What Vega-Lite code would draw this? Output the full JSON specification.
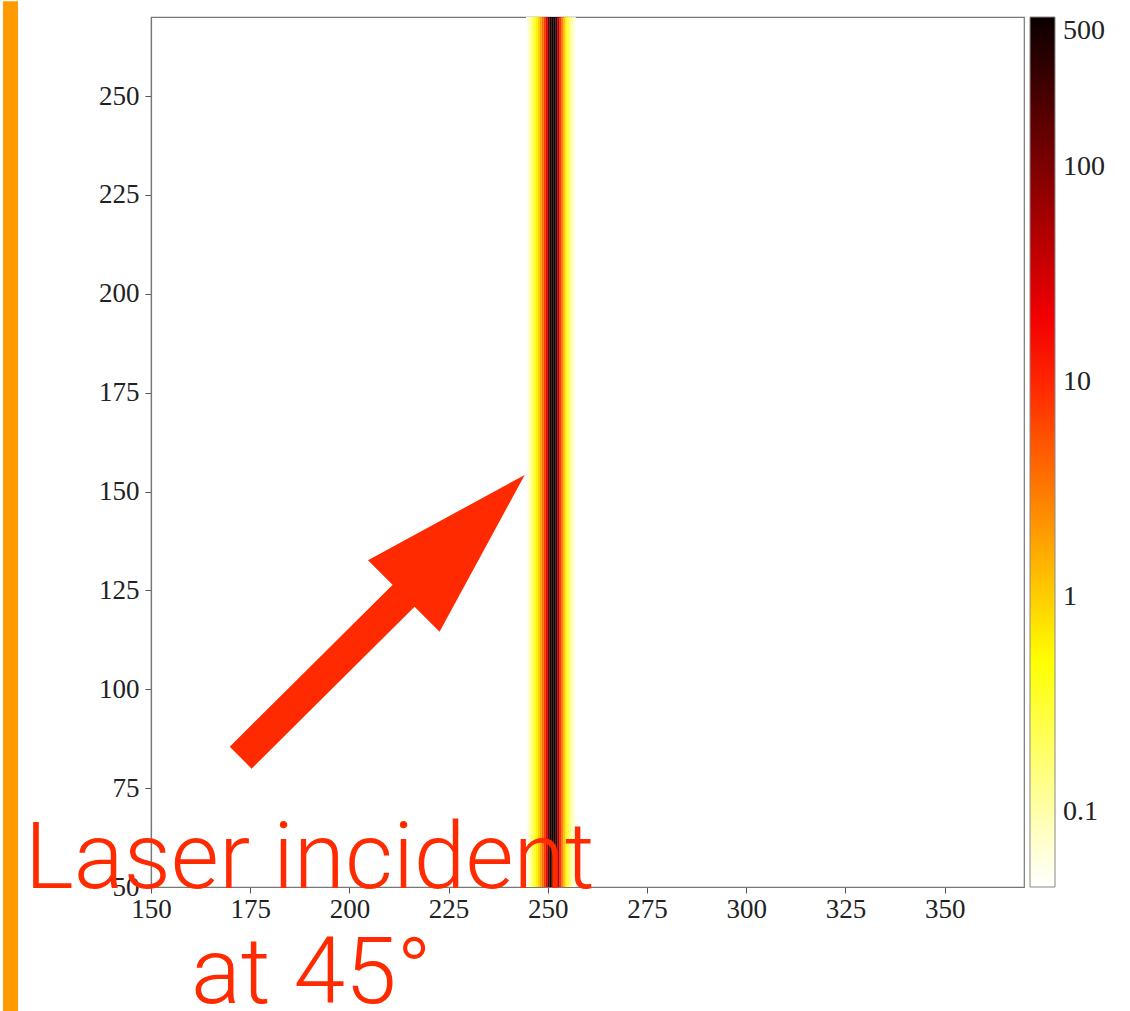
{
  "$schema": "https://vega.github.io/schema/vega-lite/v6.json",
  "width": 873,
  "height": 870,
  "autosize": "none",
  "padding": {"left": 151, "top": 17, "right": 106, "bottom": 124},
  "background": "white",
  "config": {
    "view": {"stroke": "#777", "strokeWidth": 1.2},
    "axis": {
      "labelFont": "Liberation Serif",
      "labelFontSize": 27,
      "labelColor": "#222",
      "labelFlush": false,
      "labelOverlap": false,
      "domainColor": "#777",
      "domainWidth": 1.2,
      "tickColor": "#555",
      "tickSize": 6,
      "grid": false,
      "title": null
    }
  },
  "datasets": {
    "heat": [
      {"x0": 244.5, "x1": 245.0, "v": 0.05},
      {"x0": 245.0, "x1": 245.5, "v": 0.08},
      {"x0": 245.5, "x1": 246.0, "v": 0.12},
      {"x0": 246.0, "x1": 246.5, "v": 0.2},
      {"x0": 246.5, "x1": 247.0, "v": 0.35},
      {"x0": 247.0, "x1": 247.5, "v": 0.6},
      {"x0": 247.5, "x1": 248.0, "v": 1.0},
      {"x0": 248.0, "x1": 248.5, "v": 1.8},
      {"x0": 248.5, "x1": 249.0, "v": 3.5},
      {"x0": 249.0, "x1": 249.5, "v": 8},
      {"x0": 249.5, "x1": 250.0, "v": 25},
      {"x0": 250.0, "x1": 250.5, "v": 180},
      {"x0": 250.5, "x1": 251.0, "v": 400},
      {"x0": 251.0, "x1": 251.5, "v": 500},
      {"x0": 251.5, "x1": 252.0, "v": 450},
      {"x0": 252.0, "x1": 252.5, "v": 200},
      {"x0": 252.5, "x1": 253.0, "v": 40},
      {"x0": 253.0, "x1": 253.5, "v": 8},
      {"x0": 253.5, "x1": 254.0, "v": 2.6},
      {"x0": 254.0, "x1": 254.5, "v": 1.1},
      {"x0": 254.5, "x1": 255.0, "v": 0.5},
      {"x0": 255.0, "x1": 255.5, "v": 0.25},
      {"x0": 255.5, "x1": 256.0, "v": 0.14},
      {"x0": 256.0, "x1": 256.5, "v": 0.09},
      {"x0": 256.5, "x1": 257.0, "v": 0.06}
    ],
    "border": [{"x": 114.6, "y": 274, "y2": 18}],
    "arrow": [{"x": 172.6, "y": 82.7, "x2": 215.0, "y2": 125.0}],
    "head": [{"x": 213.7, "y": 123.6}],
    "label": [
      {"text": "Laser incident", "x": 190.0, "y": 49.75},
      {"text": "at 45°", "x": 190.4, "y": 20.7}
    ]
  },
  "layer": [
    {
      "data": {"name": "heat"},
      "mark": {"type": "rect"},
      "encoding": {
        "x": {
          "field": "x0", "type": "quantitative",
          "scale": {"domain": [150, 370], "nice": false, "zero": false},
          "axis": {"values": [150, 175, 200, 225, 250, 275, 300, 325, 350], "labelPadding": 3}
        },
        "x2": {"field": "x1"},
        "color": {
          "field": "v", "type": "quantitative",
          "scale": {
            "type": "log",
            "domain": [0.045, 0.51, 16.6, 500],
            "range": ["#ffffff", "#ffff00", "#ff0000", "#0b0000"],
            "interpolate": "rgb",
            "clamp": true
          },
          "legend": {
            "title": null,
            "orient": "right",
            "offset": 6,
            "padding": 0,
            "direction": "vertical",
            "gradientLength": 870,
            "gradientThickness": 25,
            "gradientStrokeColor": "#888",
            "gradientStrokeWidth": 1,
            "values": [0.1, 1, 10, 100, 500],
            "labelFont": "Liberation Serif",
            "labelFontSize": 28,
            "labelColor": "#222",
            "labelOffset": 8,
            "labelBaseline": "middle",
            "labelOverlap": false
          }
        }
      }
    },
    {
      "data": {"name": "border"},
      "mark": {"type": "rule", "color": "#ff9a00", "strokeWidth": 15},
      "encoding": {
        "x": {"field": "x", "type": "quantitative", "scale": {"domain": [150, 370], "nice": false, "zero": false}},
        "y": {"field": "y", "type": "quantitative", "scale": {"domain": [50, 270], "nice": false, "zero": false}},
        "y2": {"field": "y2"}
      }
    },
    {
      "data": {"name": "arrow"},
      "mark": {"type": "rule", "color": "#ff2a00", "strokeWidth": 31, "strokeCap": "butt"},
      "encoding": {
        "x": {"field": "x", "type": "quantitative", "scale": {"domain": [150, 370], "nice": false, "zero": false}},
        "y": {
          "field": "y", "type": "quantitative",
          "scale": {"domain": [50, 270], "nice": false, "zero": false},
          "axis": {"values": [50, 75, 100, 125, 150, 175, 200, 225, 250], "labelPadding": 6}
        },
        "x2": {"field": "x2"},
        "y2": {"field": "y2"}
      }
    },
    {
      "data": {"name": "head"},
      "mark": {
        "type": "point",
        "shape": "M0,-1L0.296,0L-0.296,0Z",
        "size": 116964,
        "angle": 45,
        "filled": true,
        "color": "#ff2a00",
        "opacity": 1
      },
      "encoding": {
        "x": {"field": "x", "type": "quantitative", "scale": {"domain": [150, 370], "nice": false, "zero": false}},
        "y": {"field": "y", "type": "quantitative", "scale": {"domain": [50, 270], "nice": false, "zero": false}}
      }
    },
    {
      "data": {"name": "label"},
      "mark": {
        "type": "text",
        "font": "Roboto",
        "fontWeight": 300,
        "fontSize": 93,
        "color": "#ff2a00",
        "align": "center",
        "baseline": "alphabetic"
      },
      "encoding": {
        "x": {"field": "x", "type": "quantitative", "scale": {"domain": [150, 370], "nice": false, "zero": false}},
        "y": {"field": "y", "type": "quantitative", "scale": {"domain": [50, 270], "nice": false, "zero": false}},
        "text": {"field": "text"}
      }
    }
  ]
}
